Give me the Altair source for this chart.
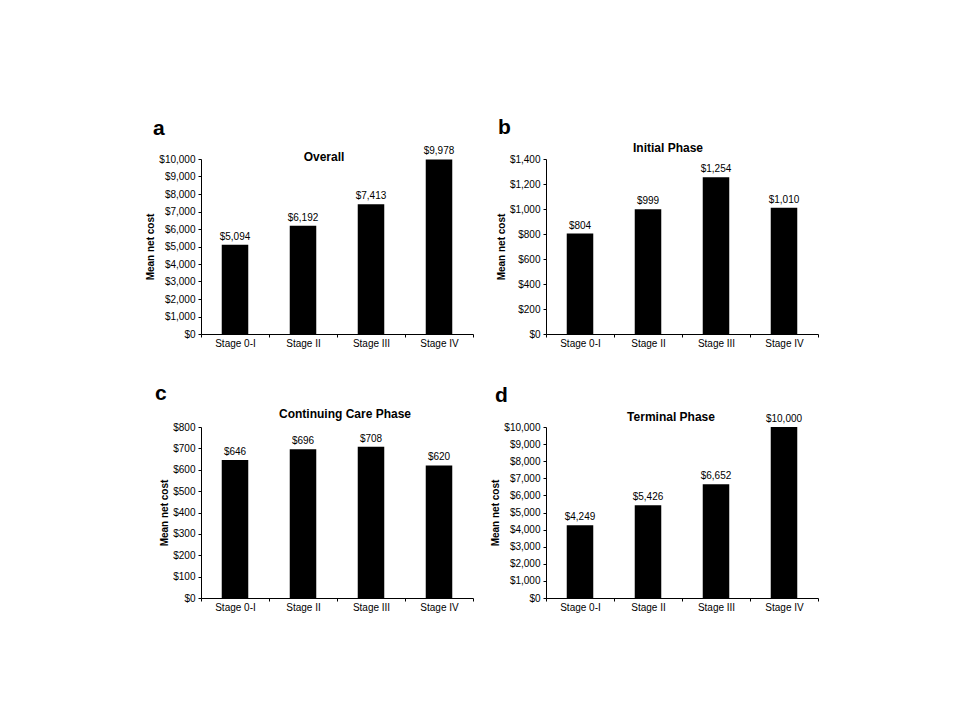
import altair as alt
import pandas as pd

stages = ["Stage 0-I", "Stage II", "Stage III", "Stage IV"]
overall = [5094, 6192, 7413, 9978]
initial = [804, 999, 1254, 1010]
continuing = [646, 696, 708, 620]
terminal = [4249, 5426, 6652, 10000]

letters = ["a", "b", "c", "d"]
titles = ["Overall", "Initial Phase", "Continuing Care Phase", "Terminal Phase"]
y_max = [10000, 1400, 800, 10000]
y_step = [1000, 200, 100, 1000]

FONT = "Liberation Sans"
W = 272
HEIGHTS = [175, 175, 171, 171]
# annotation placement (pixels relative to each panel's plot area)
title_x = [123, 122, 144, 125]
title_y = [-2, -11, -13, -10]
letter_x = [-48, -48, -46, -51]
letter_y = [-24, -25, -27, -25]


def panel(i, values):
    df = pd.DataFrame({"stage": stages, "cost": values})
    ticks = list(range(0, y_max[i] + 1, y_step[i]))
    x = alt.X(
        "stage:N",
        sort=stages,
        title=None,
        scale=alt.Scale(paddingInner=0, paddingOuter=0),
        axis=alt.Axis(
            labelAngle=0,
            tickBand="extent",
            domainColor="black",
            tickColor="black",
            tickSize=3,
            labelColor="black",
            labelFontSize=10,
            labelPadding=1,
            labelFont=FONT,
        ),
    )
    y = alt.Y(
        "cost:Q",
        title="Mean net cost",
        scale=alt.Scale(domain=[0, y_max[i]], nice=False, zero=True),
        axis=alt.Axis(
            values=ticks,
            format="$,d",
            grid=False,
            domainColor="black",
            tickColor="black",
            tickSize=3,
            labelColor="black",
            labelFontSize=10,
            labelPadding=3,
            labelFont=FONT,
            titleFont=FONT,
            titleFontSize=10,
            titleFontWeight="bold",
            titleColor="black",
            titlePadding=3,
        ),
    )
    bars = alt.Chart(df).mark_bar(color="black", width=alt.RelativeBandSize(0.39)).encode(x=x, y=y)
    labels = alt.Chart(df).mark_text(
        baseline="alphabetic", dy=-5, fontSize=10, font=FONT, color="black"
    ).encode(x=x, y=y, text=alt.Text("cost:Q", format="$,d"))
    tdf = pd.DataFrame({"t": [titles[i]], "l": [letters[i]]})
    title = alt.Chart(tdf).mark_text(
        fontSize=12, fontWeight="bold", font=FONT, color="black", baseline="middle", align="center"
    ).encode(text="t:N", x=alt.value(title_x[i]), y=alt.value(title_y[i]))
    letter = alt.Chart(tdf).mark_text(
        fontSize=21, fontWeight="bold", font=FONT, color="black", baseline="alphabetic", align="left"
    ).encode(text="l:N", x=alt.value(letter_x[i]), y=alt.value(letter_y[i]))
    return alt.layer(bars, labels, title, letter).properties(width=W, height=HEIGHTS[i])


charts = [panel(i, v) for i, v in enumerate([overall, initial, continuing, terminal])]

chart = (
    alt.concat(*charts, columns=2, spacing={"row": 93, "column": 73}, bounds="flush", align="all")
    .properties(padding={"left": 137, "top": 109, "right": 5, "bottom": 5})
    .configure(font=FONT)
    .configure_view(strokeWidth=0, stroke="transparent")
)

chart.save("out.html", embed_options={"renderer": "svg", "actions": False})
